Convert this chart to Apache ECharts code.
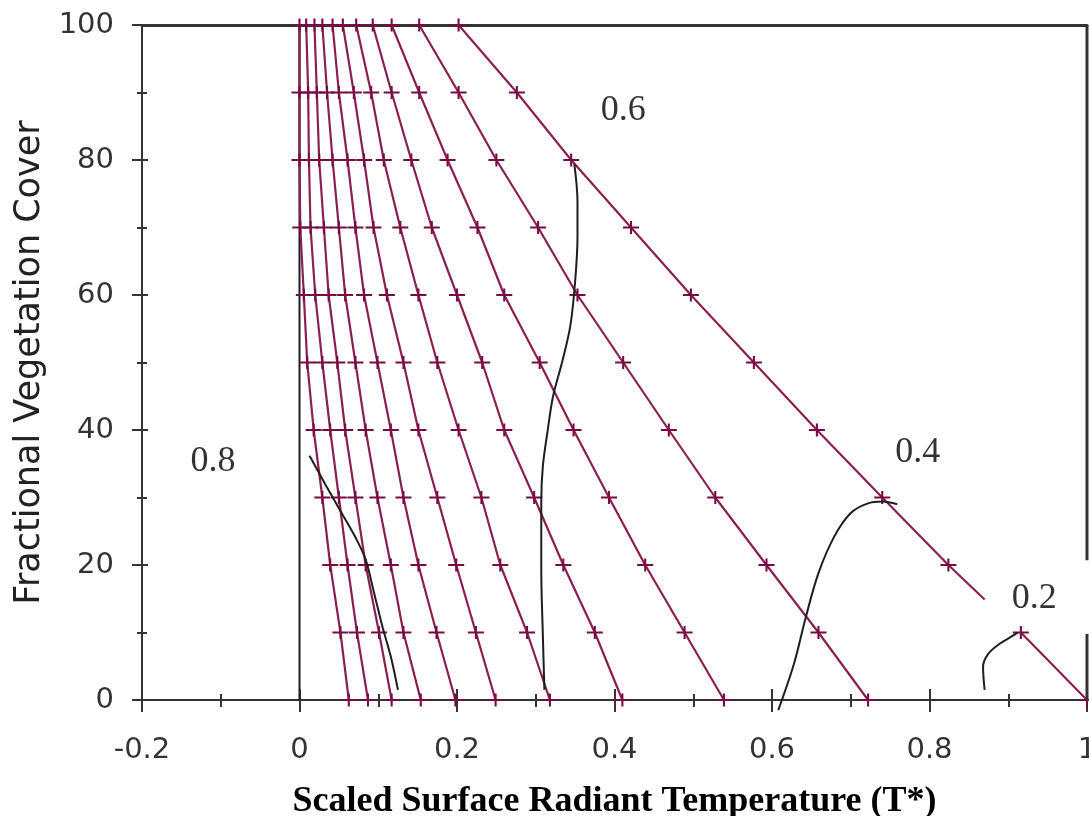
<!DOCTYPE html>
<html><head><meta charset="utf-8">
<script src="https://cdn.jsdelivr.net/npm/echarts@6/dist/echarts.min.js"></script>
<style>html,body{margin:0;padding:0;background:#fff;overflow:hidden}#c{width:1089px;height:816px}</style>
</head><body><div id="c"></div>
<script>
// Fractional vegetation cover levels (y) at which each line carries a "+" marker
const yLevels = [100, 90, 80, 70, 60, 50, 40, 30, 20, 10, 0];
// T* of each maroon line at those levels
const line01 = [0, 0, 0, 0.001, 0.0055, 0.0098, 0.018, 0.029, 0.039, 0.052, 0.0626];
const line02 = [0.0085, 0.011, 0.012, 0.014, 0.020, 0.029, 0.039, 0.050, 0.061, 0.073, 0.087];
const line03 = [0.019, 0.022, 0.025, 0.031, 0.037, 0.048, 0.058, 0.071, 0.084, 0.101, 0.117];
const line04 = [0.029, 0.035, 0.042, 0.050, 0.058, 0.071, 0.084, 0.099, 0.116, 0.132, 0.154];
const line05 = [0.042, 0.050, 0.061, 0.071, 0.082, 0.099, 0.116, 0.132, 0.151, 0.174, 0.198];
const line06 = [0.055, 0.069, 0.082, 0.094, 0.111, 0.132, 0.151, 0.175, 0.199, 0.224, 0.249];
const line07 = [0.072, 0.091, 0.107, 0.128, 0.151, 0.175, 0.202, 0.231, 0.255, 0.289, 0.318];
const line08 = [0.093, 0.117, 0.142, 0.168, 0.200, 0.232, 0.260, 0.298, 0.335, 0.375, 0.410];
const line09 = [0.117, 0.152, 0.188, 0.226, 0.260, 0.305, 0.348, 0.393, 0.439, 0.489, 0.539];
const line10 = [0.152, 0.202, 0.250, 0.303, 0.353, 0.411, 0.469, 0.528, 0.593, 0.659, 0.722];
const line11 = [0.202, 0.276, 0.345, 0.421, 0.497, 0.577, 0.657, 0.740, 0.824, 0.916, 1.0];
// the last line is interrupted below y=20 (ends here, resumes at y=10)
const line11GapStart = [0.870, 14.9];

// black isolines [T*, cover]
const isoZero = [[0, 0], [0, 100]];
const iso08 = [[0.0127, 36.2], [0.033, 31.9], [0.052, 28.0], [0.071, 24.1], [0.084, 20.8], [0.094, 16.2], [0.105, 11.0], [0.116, 6.4], [0.125, 1.5]];
const iso06 = [[0.349, 79.4], [0.353, 73.8], [0.353, 68.6], [0.350, 62.0], [0.344, 55.5], [0.334, 50.3], [0.322, 45.0], [0.315, 39.8], [0.309, 34.6], [0.307, 29.3], [0.307, 19.5], [0.309, 9.7], [0.311, 1.5]];
const iso04 = [[0.608, -1.5], [0.628, 5.4], [0.643, 12.3], [0.659, 18.8], [0.679, 24.2], [0.700, 27.7], [0.721, 29.1], [0.740, 29.4], [0.759, 29.0]];
const iso02 = [[0.870, 1.5], [0.868, 4.9], [0.875, 6.9], [0.890, 8.4], [0.907, 9.6], [0.912, 10]];

// isoline annotations
const isoLabelText = ['0.8', '0.6', '0.4', '0.2'];
const isoLabelT = [-0.110, 0.411, 0.785, 0.933];
const isoLabelY = [35.3, 87.3, 36.6, 15.0];

// right frame (interrupted behind the "0.2" label)
const rightFrameTop = [[1, 100], [1, 20.7]];
const rightFrameBottom = [[1, 9.8], [1, 0]];

const xTitle = 'Scaled Surface Radiant Temperature (T*)';
const yTitle = 'Fractional Vegetation Cover';

const MAROON = '#8b1f52';
const MARK = '#780a44';
const INK = '#1e1e1e';
const AX = '#333';
const plus = 'path://M0,5.4L17,5.4L17,7.6L0,7.6Z M7.4,0L9.6,0L9.6,13L7.4,13Z';

const allLines = [line01, line02, line03, line04, line05, line06, line07, line08, line09, line10, line11];

const series = [];
series.push({type: 'line', data: isoZero, symbol: 'none', z: 1, lineStyle: {color: INK, width: 2}, silent: true});
allLines.forEach((vals, i) => {
  let data = vals.map((t, k) => [t, yLevels[k]]);
  if (i === allLines.length - 1) {
    const upper = data.slice(0, 9);
    upper.push({value: line11GapStart, symbol: 'none'});
    data = upper.concat([null], data.slice(9));
  }
  series.push({
    type: 'line', data: data, z: 2, silent: true,
    symbol: plus, symbolSize: [16, 13], showAllSymbol: true,
    connectNulls: false,
    lineStyle: {color: MAROON, width: 2.2},
    itemStyle: {color: MARK, borderWidth: 0}
  });
});
[iso08, iso06, iso04, iso02].forEach(d => {
  series.push({type: 'line', data: d, symbol: 'none', smooth: 0.35, z: 3, clip: false, silent: true,
    lineStyle: {color: INK, width: 2}});
});
[rightFrameTop, rightFrameBottom].forEach(d => {
  series.push({type: 'line', data: d, symbol: 'none', z: 4, clip: false, silent: true,
    lineStyle: {color: AX, width: 3}});
});
series.push({
  type: 'scatter', symbolSize: 0, z: 5, silent: true,
  data: isoLabelText.map((s, i) => ({value: [isoLabelT[i], isoLabelY[i]], name: s})),
  label: {show: true, position: 'inside', formatter: p => p.name,
    fontFamily: 'Liberation Serif', fontSize: 36, color: '#000'}
});

const tickStyle = {color: AX, width: 2};
const chart = echarts.init(document.getElementById('c'), null, {renderer: 'canvas'});
chart.setOption({
  animation: false,
  backgroundColor: '#fff',
  grid: {left: 142, right: 2, top: 25, bottom: 116, containLabel: false, outerBoundsMode: 'none'},
  xAxis: [
    {type: 'value', min: -0.2, max: 1, interval: 0.2, position: 'bottom',
      axisLine: {onZero: false, lineStyle: {color: AX, width: 2}},
      axisTick: {length: 12, lineStyle: tickStyle},
      minorTick: {show: true, splitNumber: 2, length: 7, lineStyle: tickStyle},
      splitLine: {show: false}, minorSplitLine: {show: false},
      axisLabel: {fontFamily: 'DejaVu Sans', fontSize: 29, color: '#333', margin: 36},
      name: xTitle, nameLocation: 'middle', nameGap: 84,
      nameTextStyle: {fontFamily: 'Liberation Serif', fontWeight: 'bold', fontSize: 36, color: '#000'}},
    {type: 'value', min: -0.2, max: 1, interval: 0.2, position: 'bottom',
      axisLine: {show: false, onZero: false},
      axisTick: {inside: true, length: 11, lineStyle: tickStyle},
      minorTick: {show: true, splitNumber: 2, length: 6, lineStyle: tickStyle},
      splitLine: {show: false}, axisLabel: {show: false}},
    {type: 'value', min: -0.2, max: 1, position: 'top',
      axisLine: {onZero: false, lineStyle: {color: AX, width: 3}},
      axisTick: {show: false}, splitLine: {show: false}, axisLabel: {show: false}}
  ],
  yAxis: [
    {type: 'value', min: 0, max: 100, interval: 20, position: 'left',
      axisLine: {onZero: false, lineStyle: {color: AX, width: 2}},
      axisTick: {length: 10, lineStyle: tickStyle},
      minorTick: {show: true, splitNumber: 2, length: 5, lineStyle: tickStyle},
      splitLine: {show: false},
      axisLabel: {fontFamily: 'DejaVu Sans', fontSize: 29, color: '#333', margin: 28},
      name: yTitle, nameLocation: 'middle', nameGap: 94, nameRotate: 90,
      nameTextStyle: {fontFamily: 'DejaVu Sans', fontSize: 35, color: '#222'}},
    {type: 'value', min: 0, max: 100, interval: 20, position: 'left',
      axisLine: {show: false, onZero: false},
      axisTick: {inside: true, length: 6, lineStyle: tickStyle},
      minorTick: {show: true, splitNumber: 2, length: 5, lineStyle: tickStyle},
      splitLine: {show: false}, axisLabel: {show: false}}
  ],
  series: series
});
</script></body></html>
